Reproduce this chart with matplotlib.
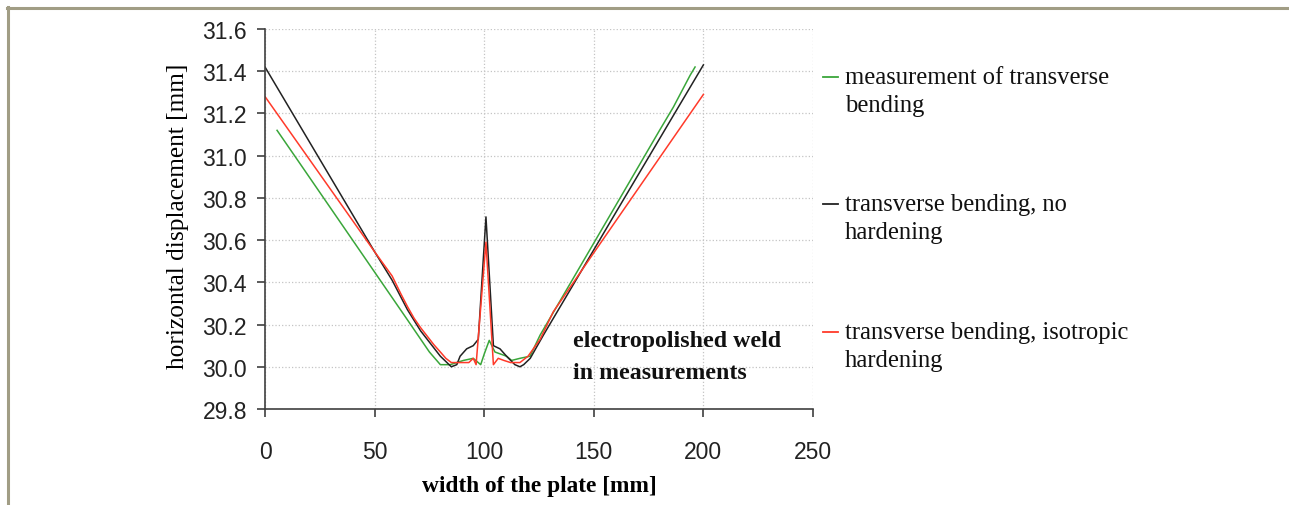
import matplotlib.pyplot as plt
from matplotlib.lines import Line2D

# measurement of transverse bending
x_meas = [5.5, 15, 25, 35, 45, 55, 65, 75, 80, 84.5, 90.5, 95, 98.4, 100,
          102.3, 104.9, 110.2, 112.5, 116.3, 120.9, 125.5, 131.5, 140, 160,
          180, 186.3, 193.9, 196.2]
y_meas = [31.12, 30.977, 30.826, 30.675, 30.524, 30.373, 30.222, 30.07, 30.01,
          30.01, 30.03, 30.04, 30.01, 30.06, 30.125, 30.07, 30.05, 30.03,
          30.04, 30.05, 30.15, 30.257, 30.408, 30.764, 31.12, 31.23, 31.38,
          31.42]

# transverse bending, no hardening
x_nohard = [0, 10, 20, 30, 40, 50, 58, 62, 65, 68, 71, 74, 77, 80, 83, 85,
            87.5, 89, 92, 95, 97.3, 100.8, 104.2, 107.2, 110.2, 114, 116.3,
            118, 121, 127, 140, 160, 180, 200]
y_nohard = [31.42, 31.245, 31.07, 30.895, 30.72, 30.545, 30.41, 30.33, 30.27,
            30.22, 30.17, 30.13, 30.09, 30.05, 30.02, 30.0, 30.01, 30.05,
            30.085, 30.10, 30.13, 30.71, 30.10, 30.085, 30.05, 30.01, 30.0,
            30.01, 30.04, 30.15, 30.378, 30.73, 31.08, 31.43]

# transverse bending, isotropic hardening
x_iso = [0, 10, 20, 30, 40, 50, 58, 62, 65, 68, 71, 74, 77, 80, 82.5, 85, 89,
         93, 95, 96.3, 100.8, 104.2, 106.4, 109, 112, 116.3, 120, 125.5,
         131.5, 150, 175, 200]
y_iso = [31.28, 31.133, 30.986, 30.839, 30.692, 30.545, 30.43, 30.345, 30.285,
         30.23, 30.185, 30.145, 30.105, 30.07, 30.04, 30.02, 30.02, 30.02,
         30.04, 30.01, 30.59, 30.01, 30.04, 30.03, 30.02, 30.02, 30.05, 30.13,
         30.26, 30.54, 30.915, 31.29]

series = [
    (x_meas, y_meas, "#3aa63a", "measurement of transverse\nbending"),
    (x_nohard, y_nohard, "#222222", "transverse bending, no\nhardening"),
    (x_iso, y_iso, "#ff3a2a", "transverse bending, isotropic\nhardening"),
]

W, H = 1289, 506
fig = plt.figure(figsize=(W / 100, H / 100), dpi=100)
ax = fig.add_axes([265 / W, 1 - 410 / H, 548 / W, 380 / H])

for xs, ys, col, lab in series:
    ax.plot(xs, ys, color=col, lw=1.1)

ax.set_xlim(0, 250)
ax.set_ylim(29.8, 31.6)
ax.set_xticks([0, 50, 100, 150, 200, 250])
ax.set_yticks([29.8 + 0.2 * i for i in range(10)])
ax.set_yticklabels(["%.1f" % (29.8 + 0.2 * i) for i in range(10)])
ax.grid(True, linestyle=":", color="#c4c4c4", lw=0.9)
ax.set_axisbelow(True)

for s in ["top", "right"]:
    ax.spines[s].set_visible(False)
for s in ["left", "bottom"]:
    ax.spines[s].set_color("#404040")
    ax.spines[s].set_linewidth(1.2)

ax.tick_params(axis="both", direction="out", length=6, width=1.2,
               color="#404040", labelsize=16.5, labelcolor="#222222")
ax.tick_params(axis="y", pad=7)
ax.tick_params(axis="x", pad=16)
for lbl in ax.get_xticklabels() + ax.get_yticklabels():
    lbl.set_family("Liberation Sans")

ax.set_xlabel("width of the plate [mm]", family="Liberation Serif",
              fontsize=16.8, fontweight="bold")
ax.xaxis.set_label_coords(0.5, -0.175)
ax.set_ylabel("horizontal displacement [mm]", family="Liberation Serif",
              fontsize=18.3)
ax.yaxis.set_label_coords(-0.138, 0.51)

# multi-line baseline is the last line here, so anchor on the second line
ax.text(140.5, 29.948, "electropolished weld\nin measurements",
        family="Liberation Serif", fontsize=17.2, fontweight="bold",
        va="baseline", ha="left", linespacing=1.65, color="#111111")

# legend, drawn by hand so the short line sits on the first text line
leg_y = [78, 205, 333]
for (xs, ys, col, lab), yp in zip(series, leg_y):
    fig.add_artist(Line2D([823 / W, 838 / W], [1 - yp / H, 1 - yp / H],
                          color=col, lw=1.3))
    fig.text(845 / W, 1 - (yp + 34) / H, lab, family="Liberation Serif",
             fontsize=17.7, va="baseline", ha="left", linespacing=1.34,
             color="#111111")

# page frame
frame_col = "#a19d85"
fig.add_artist(Line2D([7 / W, 1], [1 - 8.7 / H, 1 - 8.7 / H],
                      color=frame_col, lw=2.2))
fig.add_artist(Line2D([7.5 / W, 7.5 / W], [0, 1 - 8 / H],
                      color=frame_col, lw=2.2))

fig.savefig("out.png", dpi=100)
